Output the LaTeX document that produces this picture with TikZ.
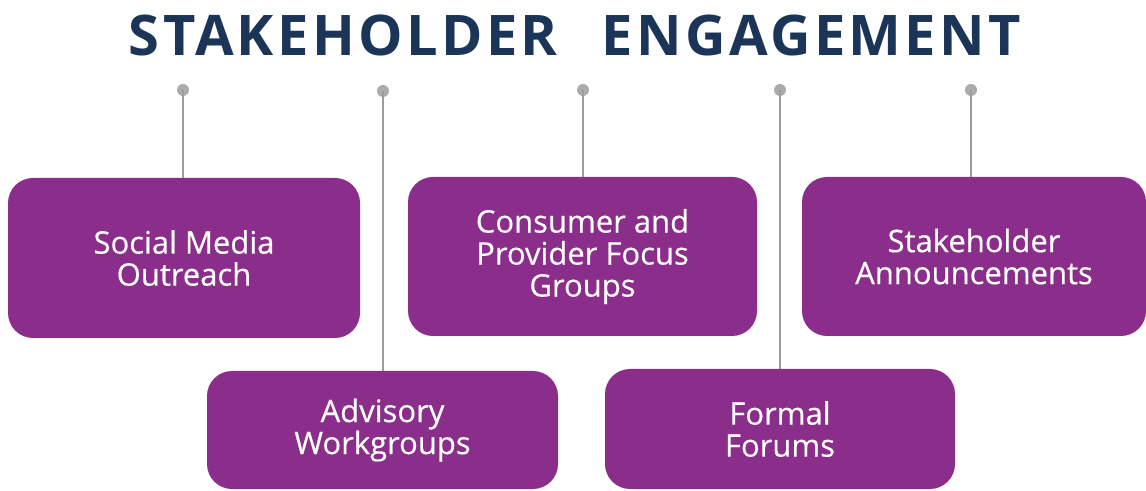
\documentclass[tikz,border=0pt]{standalone}
\usepackage{fontspec}
\setmainfont{Open Sans}
\definecolor{boxpurple}{HTML}{8B2D8B}
\definecolor{titleblue}{HTML}{1B3558}
\definecolor{stemgray}{HTML}{9C9C9C}
\tikzset{
  engbox/.style={fill=boxpurple, rounded corners=25pt, inner sep=0pt,
    text=white, align=center, font=\fontsize{31}{32}\selectfont\addfontfeature{FakeBold=0.4}},
  stem/.style={draw=stemgray, line width=2.6pt},
  pin/.style={circle, fill=stemgray!85, inner sep=0pt, minimum size=12pt}
}
\begin{document}
\begin{tikzpicture}[x=1pt,y=1pt]
      \useasboundingbox (0,0) rectangle (1146,490);
      \node[font=\fontsize{56}{60}\selectfont\bfseries\addfontfeature{LetterSpace=6}, text=titleblue] (title) at (575,455) {STAKEHOLDER\hspace{44pt}ENGAGEMENT};
      \node[engbox, minimum width=352pt, minimum height=160pt] (social) at (184,232) {Social Media\\Outreach};
      \node[engbox, minimum width=351pt, minimum height=118pt] (advisory) at (382.5,60) {Advisory\\Workgroups};
      \node[engbox, minimum width=349pt, minimum height=159pt] (consumer) at (582.5,233.5) {Consumer and\\Provider Focus\\Groups};
      \node[engbox, minimum width=350pt, minimum height=120pt] (formal) at (780,61) {Formal\\Forums};
      \node[engbox, minimum width=344pt, minimum height=159pt] (announce) at (974,233.5) {Stakeholder\\Announcements};
      \node[pin] (p1) at (183,400) {};
      \node[pin] (p2) at (383,399) {};
      \node[pin] (p3) at (583,400) {};
      \node[pin] (p4) at (780,400) {};
      \node[pin] (p5) at (971,400) {};
      \begin{scope}[on background layer/.try]
      \draw[stem] (p1.center) -- (p1.center |- social.north);
      \draw[stem] (p2.center) -- (p2.center |- advisory.north);
      \draw[stem] (p3.center) -- (p3.center |- consumer.north);
      \draw[stem] (p4.center) -- (p4.center |- formal.north);
      \draw[stem] (p5.center) -- (p5.center |- announce.north);
      \end{scope}
    \end{tikzpicture}
\end{document}
